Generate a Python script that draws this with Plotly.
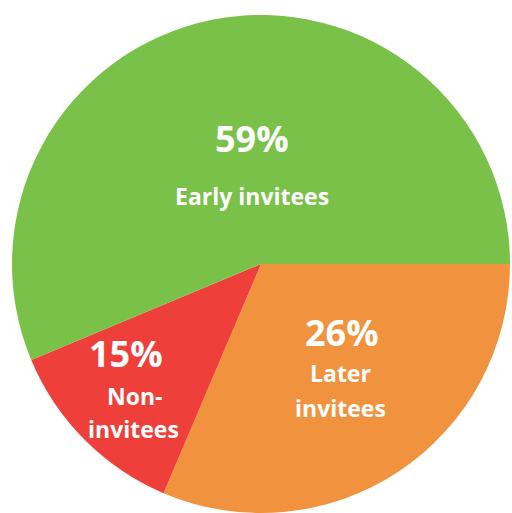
import plotly.graph_objects as go

# Data
categories = ["Later invitees", "Non-invitees", "Early invitees"]
pct_labels = ["26%", "15%", "59%"]
# drawn slice shares (angles as they appear in the graphic)
drawn_shares = [31.4, 12.3, 56.3]
colors = ["#F0923E", "#EE3F3A", "#7AC14A"]

W, H = 512, 513

fig = go.Figure(go.Pie(
    labels=categories,
    values=drawn_shares,
    sort=False,
    direction="clockwise",
    rotation=90,
    marker=dict(colors=colors, line=dict(width=0)),
    textinfo="none",
    hoverinfo="label",
    showlegend=False,
    domain=dict(x=[10 / W, 1.0], y=[0.0, 1 - 15 / H]),
))

def px(x, y):
    return x / W, 1 - y / H

FONT = "Open Sans"
# label layout: (line text, x px, y px, size)
label_lines = [
    (pct_labels[2], 252, 138, 36),
    ("Early invitees", 252, 196, 23),
    (pct_labels[1], 126, 353, 36),
    ("Non-", 134, 396, 23),
    ("invitees", 133, 429, 23),
    (pct_labels[0], 342, 332, 36),
    ("Later", 340, 373, 23),
    ("invitees", 340, 408, 23),
]

for text, x, y, size in label_lines:
    ax, ay = px(x, y)
    fig.add_annotation(
        x=ax, y=ay, xref="paper", yref="paper",
        text=text, showarrow=False,
        xanchor="center", yanchor="middle",
        font=dict(family=FONT, size=size, color="white", weight="bold"),
    )

fig.update_layout(
    width=W, height=H,
    margin=dict(l=0, r=0, t=0, b=0),
    paper_bgcolor="white",
    plot_bgcolor="white",
)

fig.write_html(
    "out.html",
    config={"displayModeBar": False},
    post_script=(
        "document.body.style.margin='0';"
        "document.documentElement.style.overflow='hidden';"
        "document.body.style.overflow='hidden';"
    ),
)
